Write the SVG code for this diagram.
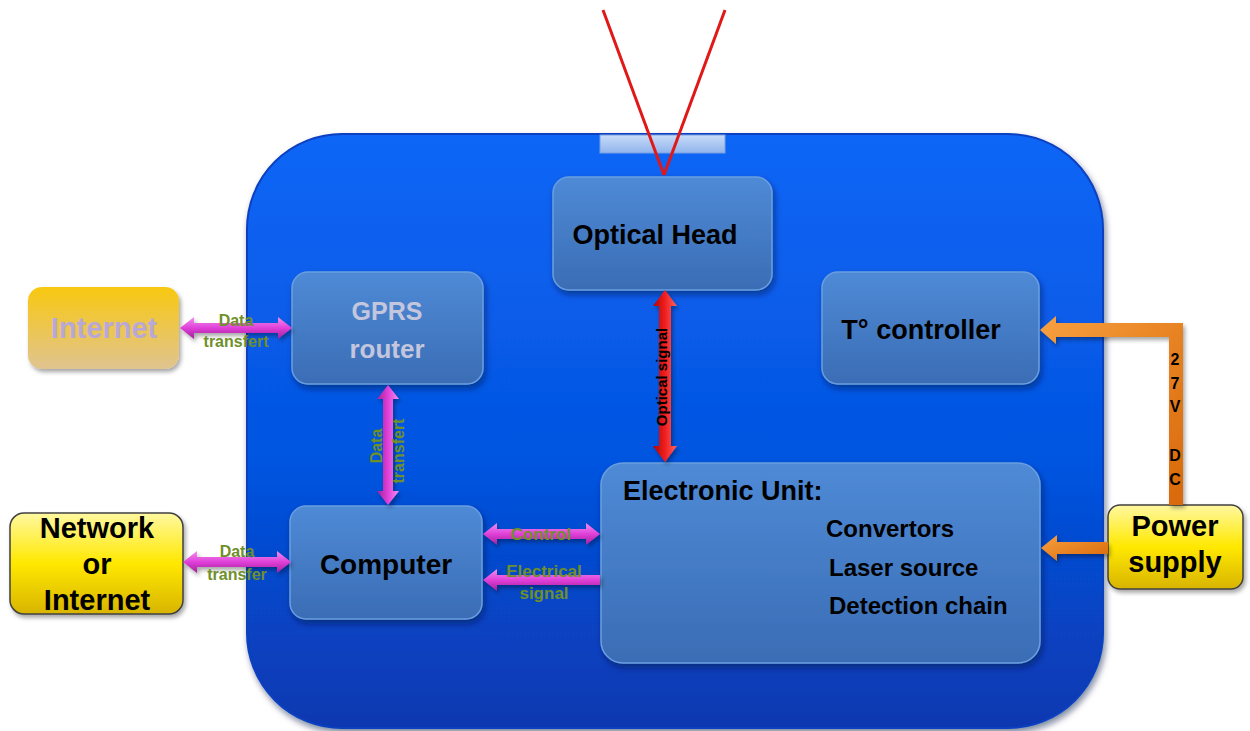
<svg xmlns="http://www.w3.org/2000/svg" width="1250" height="731" viewBox="0 0 1250 731">
<defs>
<linearGradient id="gMain" x1="0" y1="0" x2="0" y2="1">
<stop offset="0" stop-color="#0a66f6"/><stop offset="0.55" stop-color="#0554e0"/><stop offset="1" stop-color="#0838b0"/>
</linearGradient>
<linearGradient id="gNode" x1="0" y1="0" x2="0" y2="1">
<stop offset="0" stop-color="#4f8ad6"/><stop offset="1" stop-color="#3a6db5"/>
</linearGradient>
<linearGradient id="gWin" x1="0" y1="0" x2="0" y2="1">
<stop offset="0" stop-color="#c8dcf8"/><stop offset="1" stop-color="#90b4ec"/>
</linearGradient>
<linearGradient id="gGold" x1="0" y1="0" x2="0" y2="1">
<stop offset="0" stop-color="#f8c810"/><stop offset="1" stop-color="#e0c490"/>
</linearGradient>
<linearGradient id="gYellow" x1="0" y1="0" x2="0" y2="1">
<stop offset="0" stop-color="#fff8a0"/><stop offset="0.5" stop-color="#ffe800"/><stop offset="1" stop-color="#d8b400"/>
</linearGradient>
<linearGradient id="gMag" x1="0" y1="0" x2="0" y2="1">
<stop offset="0" stop-color="#f090f0"/><stop offset="0.5" stop-color="#e040d8"/><stop offset="1" stop-color="#a02098"/>
</linearGradient>
<linearGradient id="gMagV" x1="0" y1="0" x2="1" y2="0">
<stop offset="0" stop-color="#a02098"/><stop offset="0.5" stop-color="#e040d8"/><stop offset="1" stop-color="#f090f0"/>
</linearGradient>
<linearGradient id="gRed" x1="0" y1="0" x2="1" y2="0">
<stop offset="0" stop-color="#b00000"/><stop offset="0.5" stop-color="#f02020"/><stop offset="1" stop-color="#ff6060"/>
</linearGradient>
<linearGradient id="gOrange" x1="0" y1="0" x2="1" y2="1">
<stop offset="0" stop-color="#f8a040"/><stop offset="1" stop-color="#d86808"/>
</linearGradient>
<filter id="sh" x="-20%" y="-20%" width="140%" height="150%">
<feDropShadow dx="2" dy="4" stdDeviation="3" flood-color="#001040" flood-opacity="0.5"/>
</filter>
<filter id="sh2" x="-20%" y="-20%" width="140%" height="150%">
<feDropShadow dx="2" dy="3" stdDeviation="2" flood-color="#000" flood-opacity="0.35"/>
</filter>
</defs>
<style>
.node{fill:url(#gNode);stroke:#6a9ee0;stroke-width:1.5;filter:url(#sh)}
.t{font-family:"Liberation Sans",Arial,sans-serif;font-weight:bold;text-anchor:middle;fill:#000}
.s{text-anchor:start}
.lbl{font-family:"Liberation Sans",Arial,sans-serif;font-weight:bold;text-anchor:middle;fill:#6f8f2a;font-size:16px}
.ext{stroke:#404040;stroke-width:1.5;filter:url(#sh2)}
</style>

<g id="enclosure">
<rect x="247" y="134" width="856" height="594" rx="95" ry="95" fill="url(#gMain)" stroke="#0840c0" stroke-width="2" filter="url(#sh)"/>
<rect x="600" y="135" width="125" height="18" fill="url(#gWin)" stroke="#7aa0e0" stroke-width="1"/>
</g>

<g id="beam">
<line x1="603" y1="10" x2="664" y2="175" stroke="#e01818" stroke-width="3"/>
<line x1="725" y1="10" x2="664" y2="175" stroke="#e01818" stroke-width="3"/>
</g>

<g id="optical-head">
<rect class="node" x="553" y="177" width="219" height="113" rx="16"/>
<text class="t" x="655" y="244" font-size="27">Optical Head</text>
</g>

<g id="gprs-router">
<rect class="node" x="292" y="272" width="191" height="112" rx="16"/>
<text class="t" x="387" y="320" font-size="25" style="fill:#c4c6de">GPRS</text>
<text class="t" x="387" y="358" font-size="26" style="fill:#c4c6de">router</text>
</g>

<g id="t-controller">
<rect class="node" x="822" y="272" width="217" height="112" rx="16"/>
<text class="t" x="921" y="339" font-size="27">T° controller</text>
</g>

<g id="computer">
<rect class="node" x="290" y="506" width="192" height="113" rx="16"/>
<text class="t" x="386" y="574" font-size="28">Computer</text>
</g>

<g id="electronic-unit">
<rect class="node" x="601" y="463" width="439" height="200" rx="22"/>
<text class="t s" x="623" y="500" font-size="27">Electronic Unit:</text>
<text class="t s" x="826" y="537" font-size="24">Convertors</text>
<text class="t s" x="829" y="576" font-size="24">Laser source</text>
<text class="t s" x="829" y="614" font-size="24">Detection chain</text>
</g>

<g id="internet">
<rect x="28" y="287" width="151" height="82" rx="14" fill="url(#gGold)" filter="url(#sh2)"/>
<text class="t" x="104" y="338" font-size="29" style="fill:#b8a8d8">Internet</text>
</g>

<g id="network">
<rect class="ext" x="10" y="513" width="173" height="101" rx="14" fill="url(#gYellow)"/>
<text class="t" x="97" y="538" font-size="29">Network</text>
<text class="t" x="97" y="574" font-size="29">or</text>
<text class="t" x="97" y="610" font-size="29">Internet</text>
</g>

<g id="power-supply">
<rect class="ext" x="1108" y="505" width="135" height="84" rx="12" fill="url(#gYellow)"/>
<text class="t" x="1175" y="536" font-size="29">Power</text>
<text class="t" x="1175" y="572" font-size="29">supply</text>
</g>

<g id="connectors">
<polygon fill="url(#gMag)" filter="url(#sh2)" points="180,328 194,317 194,323 278,323 278,317 292,328 278,339 278,333 194,333 194,339"/>
<text class="lbl" x="236" y="326">Data</text>
<text class="lbl" x="236" y="347">transfert</text>

<polygon fill="url(#gMag)" filter="url(#sh2)" points="183,562 197,551 197,557 277,557 277,551 291,562 277,573 277,567 197,567 197,573"/>
<text class="lbl" x="237" y="557">Data</text>
<text class="lbl" x="237" y="580">transfer</text>

<polygon fill="url(#gMagV)" filter="url(#sh2)" points="388,385 399,399 393,399 393,491 399,491 388,505 377,491 383,491 383,399 377,399"/>
<text class="lbl" transform="translate(382,446) rotate(-90)">Data</text>
<text class="lbl" transform="translate(404,451) rotate(-90)">transfert</text>

<polygon fill="url(#gMag)" filter="url(#sh2)" points="483,534 497,523 497,529 586,529 586,523 600,534 586,545 586,539 497,539 497,545"/>
<text class="lbl" x="541" y="540" font-size="17" style="font-size:17px">Control</text>

<polygon fill="url(#gMag)" filter="url(#sh2)" points="483,580 497,569 497,575 600,575 600,585 497,585 497,591"/>
<text class="lbl" x="544" y="577" style="font-size:17px">Electrical</text>
<text class="lbl" x="544" y="599" style="font-size:17px">signal</text>

<polygon fill="url(#gRed)" filter="url(#sh2)" points="665,290 677,306 671,306 671,446 677,446 665,462 653,446 659,446 659,306 653,306"/>
<text class="t" font-size="15" transform="translate(667,377) rotate(-90)">Optical signal</text>

<polygon fill="url(#gOrange)" filter="url(#sh2)" points="1040,330 1056,316 1056,323 1183,323 1183,505 1169,505 1169,337 1056,337 1056,344"/>
<text class="t" font-size="16" x="1175" y="365">2</text>
<text class="t" font-size="16" x="1175" y="389">7</text>
<text class="t" font-size="16" x="1175" y="412">V</text>
<text class="t" font-size="16" x="1175" y="461">D</text>
<text class="t" font-size="16" x="1175" y="485">C</text>

<polygon fill="url(#gOrange)" filter="url(#sh2)" points="1041,548 1057,535 1057,542 1108,542 1108,554 1057,554 1057,561"/>
</g>
</svg>
